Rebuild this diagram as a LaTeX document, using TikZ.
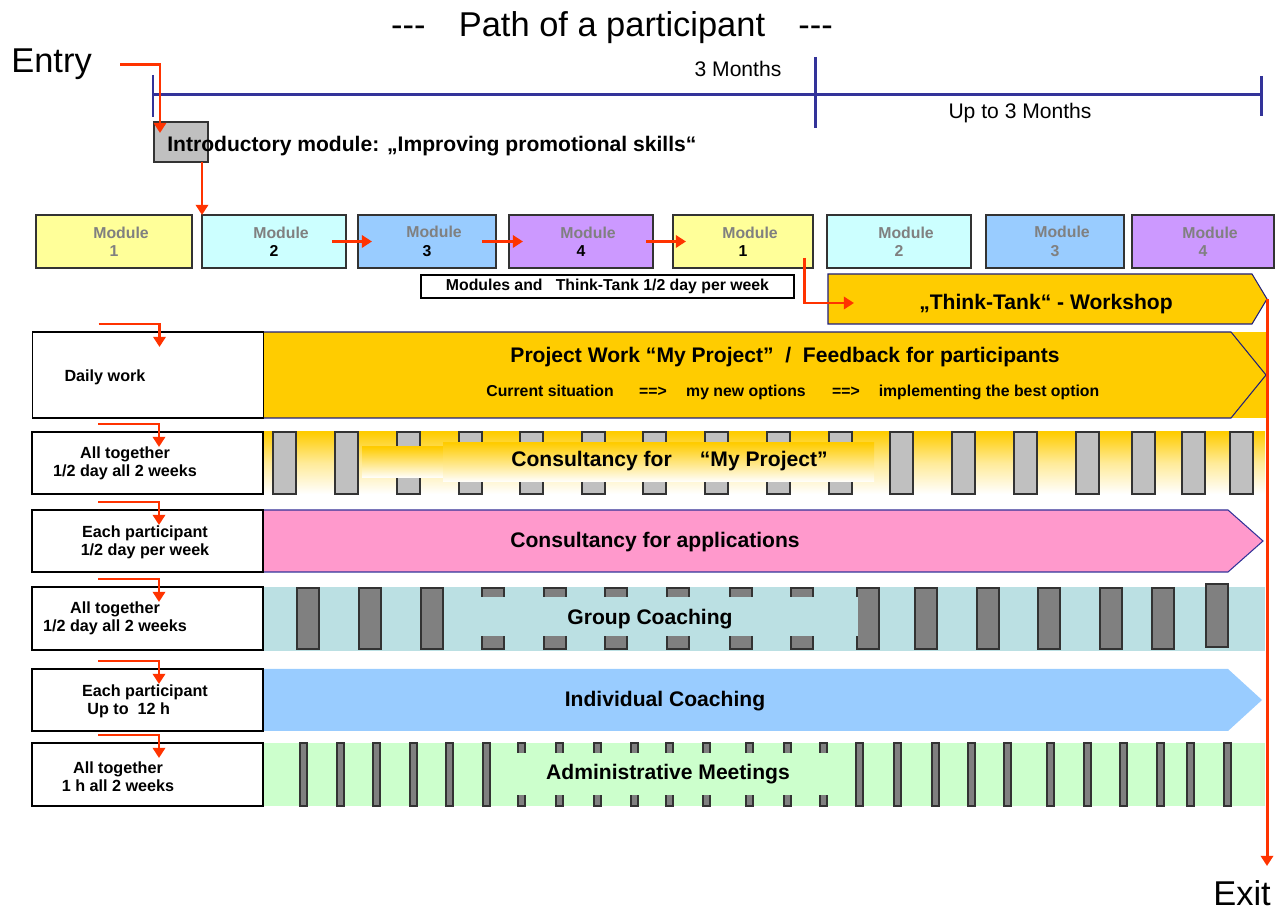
\documentclass[tikz,border=0pt]{standalone}
\usepackage{fontspec}
\setmainfont{Liberation Sans}
\usepackage{xcolor}
\usepackage{tikz}
\usetikzlibrary{arrows.meta}
\usetikzlibrary{positioning}

\definecolor{arrowred}{HTML}{FF3300}
\definecolor{lineblue}{HTML}{333399}
\definecolor{navyline}{HTML}{1F1F7A}
\definecolor{tankyellow}{HTML}{FFCC00}
\definecolor{modyellow}{HTML}{FFFF99}
\definecolor{modcyan}{HTML}{CCFFFF}
\definecolor{modblue}{HTML}{99CCFF}
\definecolor{modviolet}{HTML}{CC99FF}
\definecolor{apppink}{HTML}{FF99CC}
\definecolor{coachbg}{HTML}{BBE0E3}
\definecolor{adminbg}{HTML}{CCFFCC}
\definecolor{slotlight}{HTML}{C0C0C0}
\definecolor{slotdark}{HTML}{808080}
\definecolor{textgray}{HTML}{808080}

\newcommand{\px}{0.02cm}
\newcommand{\modlabel}[1]{\hspace*{8pt}Module\\#1}

\begin{document}
\begin{tikzpicture}[x=0.02cm, y=-0.02cm]
\useasboundingbox (0,0) rectangle (1285,911);

\tikzstyle{redarrow} = [draw=arrowred, line width=1.7pt, -{Triangle[length=5.8pt,width=7pt]}]
\tikzstyle{timeline} = [draw=lineblue, line width=1.7pt]
\tikzstyle{module} = [draw=black!80, line width=0.8pt, minimum height=53*\px, inner sep=0pt, outer sep=0pt, align=center, text=textgray, font=\bfseries\fontsize{9}{10.4}\selectfont]
\tikzstyle{rowlabel} = [draw=black, line width=0.6pt, minimum width=231*\px, inner sep=0pt, outer sep=0pt]
\tikzstyle{labeltext} = [align=center, font=\bfseries\fontsize{9.2}{10.4}\selectfont]
\tikzstyle{bartext} = [font=\bfseries\fontsize{12}{14}\selectfont]
\tikzstyle{slot} = [draw=black!80, line width=0.6pt]
\tikzstyle{bigtext} = [anchor=base west, inner sep=0pt, font=\fontsize{19.6}{22}\selectfont]

% title and time scale
\node[anchor=base, font=\fontsize{19.6}{22}\selectfont] (title) at (612,37) {-\kern0pt-\kern0pt-\hspace{19pt}Path of a participant\hspace{19pt}-\kern0pt-\kern0pt-};
\node[anchor=base, font=\fontsize{12}{14}\selectfont] (threem) at (738,77) {3 Months};
\node[anchor=base, font=\fontsize{12}{14}\selectfont] (upto) at (1020,119) {Up to 3 Months};

\coordinate (t0) at (153,95);
\coordinate (t1) at (815,95);
\coordinate (t2) at (1261,95);
\draw[timeline] (t0) -- (t2);
\draw[timeline] ([yshift=20*\px]t0) -- ([yshift=-22*\px]t0);
\draw[timeline] ([yshift=38*\px]t1) -- ([yshift=-33*\px]t1);
\draw[timeline] ([yshift=19*\px]t2) -- ([yshift=-21*\px]t2);

% entry and introductory module
\node[bigtext] (entry) at (11,73) {Entry};
\node[draw=black!80, fill=slotlight, line width=0.7pt, minimum width=54*\px, minimum height=40*\px, inner sep=0pt, outer sep=0pt] (intro) at (181,142) {};
\node[anchor=base west, inner xsep=0pt, font=\bfseries\fontsize{12}{14}\selectfont] (introtext) at (167,152) {Introductory module: „Improving promotional skills“};
\draw[redarrow] ([xshift=28*\px]entry.east) -| ([xshift=6*\px,yshift=-11*\px]intro.north west);

% modules
\node[module, fill=modyellow, minimum width=156*\px] (m1) at (114,241.5) {\modlabel{1}};
\node[module, fill=modcyan, minimum width=144*\px] (m2) at (274,241.5) {\modlabel{\textcolor{black}{2}}};
\node[module, fill=modblue, minimum width=138*\px] (m3) at (427,241.5) {\modlabel{\textcolor{black}{3}}};
\node[module, fill=modviolet, minimum width=144*\px] (m4) at (581,241.5) {\modlabel{\textcolor{black}{4}}};
\node[module, fill=modyellow, minimum width=140*\px] (m5) at (743,241.5) {\modlabel{\textcolor{black}{1}}};
\node[module, fill=modcyan, minimum width=144*\px] (m6) at (899,241.5) {\modlabel{2}};
\node[module, fill=modblue, minimum width=138*\px] (m7) at (1055,241.5) {\modlabel{3}};
\node[module, fill=modviolet, minimum width=142*\px] (m8) at (1203,241.5) {\modlabel{4}};

\draw[redarrow] ([xshift=-6*\px]intro.south east) -- (m2.north west);
\draw[redarrow] ([xshift=-14*\px]m2.east) -- ([xshift=14*\px]m3.west);
\draw[redarrow] ([xshift=-14*\px]m3.east) -- ([xshift=14*\px]m4.west);
\draw[redarrow] ([xshift=-7*\px]m4.east) -- ([xshift=13*\px]m5.west);

\node[draw=black, line width=0.7pt, minimum width=373*\px, minimum height=23*\px, inner sep=0pt, font=\bfseries\fontsize{9}{10}\selectfont] (mtt) at (607.5,286.5) {Modules and\ \ \ Think-Tank 1/2 day per week};

% think tank
\coordinate (tttip) at (1267,299);
\draw[fill=tankyellow, draw=navyline, line width=0.6pt] (828,274) -- (1252,274) -- (tttip) -- (1252,324) -- (828,324) -- cycle;
\node[bartext] (tt) at (1046,304) {„Think-Tank“ - Workshop};
\coordinate (ttin) at (854,303);
\draw[redarrow] ([xshift=-9*\px,yshift=10*\px]m5.south east) |- (ttin);

% daily work
\fill[tankyellow] (264,332) rectangle (1266,418);
\draw[draw=navyline, line width=0.6pt] (264,332) -- (1231,332) -- (1266,375) -- (1231,418) -- (264,418);
\node[bartext] (pw) at (785,357) {Project Work “My Project”\ \ /\ \ Feedback for participants};
\node[anchor=west, inner xsep=0pt, font=\bfseries\fontsize{9}{11}\selectfont] (pwsteps) at (486,392) {Current situation\hspace{14.5pt}==>\hspace{11pt}my new options\hspace{15pt}==>\hspace{10.8pt}implementing the best option};

% consultancy for my project
\shade[top color=tankyellow, bottom color=white, middle color=tankyellow!40] (264,432) rectangle (1265,494);
\foreach \sx in {273,335,397,459,520,582,643,705,767,829,890,952,1014,1076,1132,1182,1230}
  \draw[slot, fill=slotlight] (\sx,432) rectangle +(23,62);
\shade[top color=tankyellow, bottom color=white] (362,447) rectangle (445,478);
\shade[top color=tankyellow, bottom color=white] (443,443) rectangle (874,482);
\node[bartext, anchor=west, inner xsep=0pt] (cmp) at (511,461) {Consultancy for\hspace{16pt}“My Project”};

% consultancy for applications
\draw[fill=apppink, draw=lineblue, line width=0.6pt] (262,510) -- (1228,510) -- (1263,541) -- (1228,572) -- (262,572) -- cycle;
\node[bartext] (capp) at (655,542) {Consultancy for applications};

% group coaching
\fill[coachbg] (262,587) rectangle (1265,651);
\foreach \sx in {297,359,421,482,544,605,667,730,791,857,915,977,1038,1100,1152}
  \draw[slot, fill=slotdark] (\sx,588) rectangle +(22,61);
\draw[slot, fill=slotdark] (1206,584) rectangle +(22,63);
\fill[coachbg] (474,597) rectangle (858,636);
\node[bartext] (gc) at (650,619) {Group Coaching};

% individual coaching
\fill[modblue] (262,669) -- (1228,669) -- (1262,700) -- (1228,731) -- (262,731) -- cycle;
\node[bartext] (ic) at (665,701) {Individual Coaching};

% administrative meetings
\fill[adminbg] (262,743) rectangle (1265,806);
\foreach \sx in {300,337,373,410,446,483,518,556,594,631,666,703,746,784,820,856,894,932,968,1004,1047,1084,1120,1157,1187,1224}
  \draw[slot, fill=slotdark] (\sx,743) rectangle +(7,63);
\fill[adminbg] (512,753) rectangle (830,795);
\node[bartext] (am) at (668,774) {Administrative Meetings};

% row labels
\node[rowlabel, fill=white, minimum height=86*\px] (lab1) at (148,375) {};
\node[rowlabel, fill=white, minimum height=62*\px] (lab2) at (147.5,463) {};
\node[rowlabel, fill=white, minimum height=62*\px] (lab3) at (147.5,541) {};
\node[rowlabel, fill=white, minimum height=63*\px] (lab4) at (147.5,618.5) {};
\node[rowlabel, fill=white, minimum height=62*\px] (lab5) at (147.5,700) {};
\node[rowlabel, fill=white, minimum height=63*\px] (lab6) at (147.5,774.5) {};

\node[labeltext] (lt1) at (105,377) {Daily work};
\node[labeltext] (lt2) at (125,463) {All together\\1/2 day all 2 weeks};
\node[labeltext] (lt3) at (145,542) {Each participant\\1/2 day per week};
\node[labeltext] (lt4) at (115,618) {All together\\1/2 day all 2 weeks};
\node[labeltext, align=left] (lt5) at (145,701) {Each participant\\\hspace*{3pt}Up to\ \ 12 h};
\node[labeltext] (lt6) at (118,777) {All together\\1 h all 2 weeks};

\foreach \r in {1,...,6}
  \draw[redarrow] ([xshift=66*\px,yshift=8*\px]lab\r.north west) -| ([xshift=127*\px,yshift=-15*\px]lab\r.north west);

% exit
\node[bigtext] (exit) at (1213,905) {Exit};
\coordinate (exittip) at (1267,866);
\draw[redarrow] (tttip) -- (exittip);

\end{tikzpicture}
\end{document}
